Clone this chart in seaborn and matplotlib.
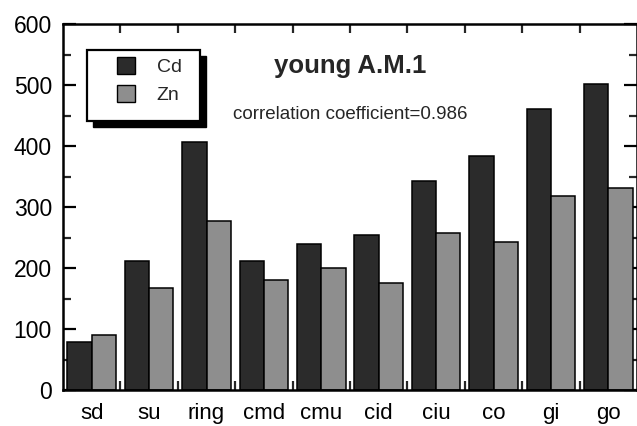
import matplotlib
matplotlib.use("Agg")
import matplotlib.pyplot as plt
from matplotlib.patches import Rectangle, Patch
from matplotlib.ticker import MultipleLocator, FixedLocator
import seaborn as sns
import pandas as pd

sites = ["sd", "su", "ring", "cmd", "cmu", "cid", "ciu", "co", "gi", "go"]
cd_values = [79, 212, 407, 212, 239, 254, 342, 384, 461, 502]
zn_values = [90, 167, 277, 180, 200, 175, 257, 243, 318, 331]
series_names = ["Cd", "Zn"]
title_text = "young A.M.1"
note_text = "correlation coefficient=0.986"

df = pd.DataFrame({
    "site": sites * 2,
    "value": cd_values + zn_values,
    "metal": [series_names[0]] * len(sites) + [series_names[1]] * len(sites),
})

sns.set_style("white")
plt.rcParams["font.family"] = ["Liberation Sans", "DejaVu Sans"]

fig = plt.figure(figsize=(6.37, 4.26), dpi=100)
ax = fig.add_axes([63 / 637, 36 / 426, 574 / 637, 366 / 426])

colors = ["#2b2b2b", "#8e8e8e"]
sns.barplot(data=df, x="site", y="value", hue="metal", order=sites,
            hue_order=series_names, palette=colors, width=0.85,
            edgecolor="black", linewidth=1.1, saturation=1, ax=ax,
            legend=False, errorbar=None)

ax.set_xlim(-0.5, 9.5)
ax.set_ylim(0, 600)
ax.set_xlabel("")
ax.set_ylabel("")

for s in ax.spines.values():
    s.set_visible(True)
    s.set_color("black")
    s.set_linewidth(1.8)

# y ticks
ax.yaxis.set_major_locator(MultipleLocator(100))
ax.yaxis.set_minor_locator(MultipleLocator(50))
ax.tick_params(axis="y", which="major", direction="in", length=9.5, width=1.6,
               left=True, right=True, labelsize=16.5, pad=8, colors="black")
ax.tick_params(axis="y", which="minor", direction="in", length=5.5, width=1.6,
               left=True, right=True)
# x ticks: labels at centers, marks at boundaries
ax.xaxis.set_minor_locator(FixedLocator([i + 0.5 for i in range(len(sites) - 1)]))
ax.tick_params(axis="x", which="major", length=0, labelsize=16, pad=9.5,
               colors="black", top=False, bottom=False)
ax.tick_params(axis="x", which="minor", direction="in", length=6.5, width=1.6,
               top=True, bottom=True)

# title and note
ax.text(4.5, 520, title_text, ha="center", va="baseline", fontsize=18.5,
        fontweight="bold")
ax.text(4.5, 444, note_text, ha="center", va="baseline", fontsize=13.5)

# legend frame with shadow
fx0 = (87 - 63) / 574
fx1 = (200 - 63) / 574
fy1 = (390 - 50) / 366
fy0 = (390 - 121) / 366
dx = 6 / 574
dy = 6 / 366
ax.add_patch(Rectangle((fx0 + dx, fy0 - dy), fx1 - fx0, fy1 - fy0,
                       transform=ax.transAxes, facecolor="black",
                       edgecolor="black", zorder=4, clip_on=False))
ax.add_patch(Rectangle((fx0, fy0), fx1 - fx0, fy1 - fy0,
                       transform=ax.transAxes, facecolor="white",
                       edgecolor="black", linewidth=1.6, zorder=4.5,
                       clip_on=False))

handles = [Patch(facecolor=c, edgecolor="black", linewidth=1.0) for c in colors]
leg = ax.legend(handles, series_names, loc="upper left",
                bbox_to_anchor=((117 - 63) / 574, (390 - 57) / 366),
                frameon=False, fontsize=14, handlelength=0.95,
                handleheight=0.95, handletextpad=1.1, labelspacing=0.45,
                borderpad=0, borderaxespad=0)
leg.set_zorder(6)

fig.savefig("out.png", dpi=100)
